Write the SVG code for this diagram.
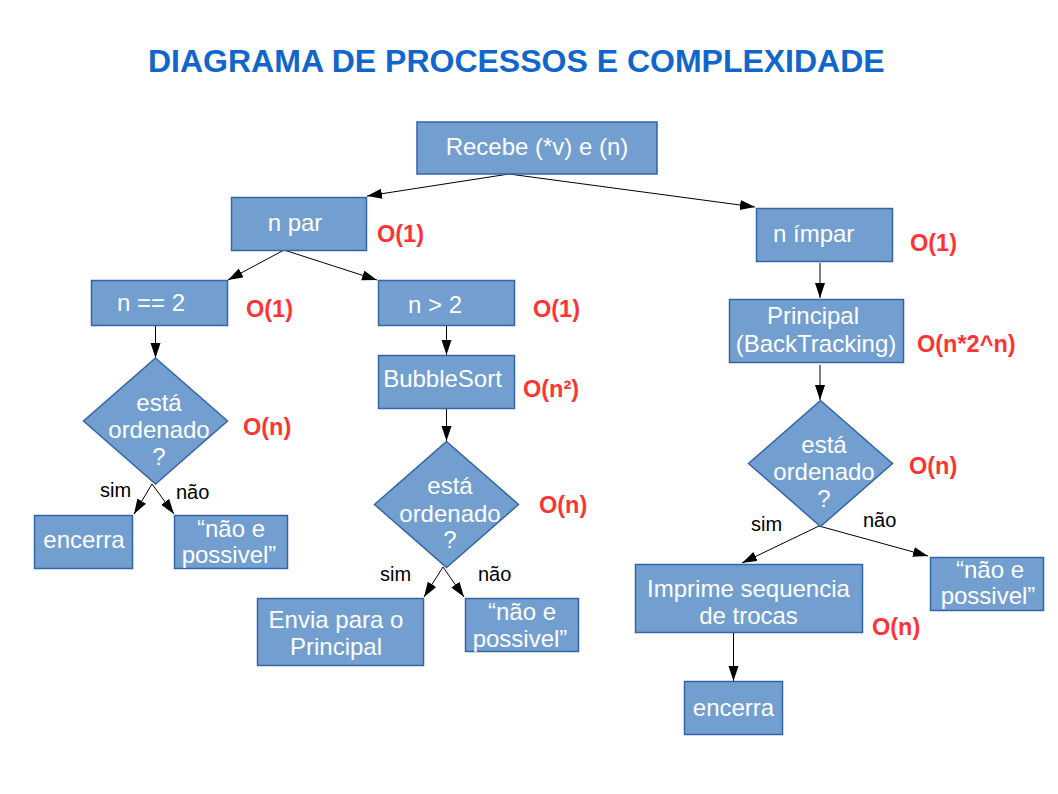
<svg xmlns="http://www.w3.org/2000/svg" width="1058" height="794" viewBox="0 0 1058 794">
<defs>
<style>
.box{fill:#729fcf;stroke:#3465a4;stroke-width:1.5}
.t{font-family:"Liberation Sans",Arial,sans-serif;font-size:24px;fill:#ffffff;text-anchor:middle}
.c{font-family:"Liberation Sans",Arial,sans-serif;font-size:23.5px;font-weight:bold;fill:#ff3333}
.l{font-family:"Liberation Sans",Arial,sans-serif;font-size:20px;fill:#000000}
.e{stroke:#000;stroke-width:1;fill:none;marker-end:url(#ah)}
</style>
<marker id="ah" markerUnits="userSpaceOnUse" markerWidth="16" markerHeight="11" refX="15" refY="5" orient="auto">
<path d="M0,0 L15,5 L0,10 z" fill="#000"/>
</marker>
</defs>
<rect width="1058" height="794" fill="#ffffff"/>
<text x="148" y="72" font-family="Liberation Sans,Arial,sans-serif" font-size="32" font-weight="bold" fill="#1166cc">DIAGRAMA DE PROCESSOS E COMPLEXIDADE</text>

<g id="connectors">
<line class="e" x1="509" y1="174" x2="367" y2="196"/>
<line class="e" x1="509" y1="174" x2="755" y2="207"/>
<line class="e" x1="284" y1="250" x2="228" y2="280"/>
<line class="e" x1="284" y1="250" x2="377" y2="280"/>
<line class="e" x1="155.5" y1="325" x2="155.5" y2="358"/>
<line class="e" x1="446.5" y1="325" x2="446.5" y2="355"/>
<line class="e" x1="152" y1="484" x2="134" y2="514"/>
<line class="e" x1="152" y1="484" x2="174" y2="514"/>
<line class="e" x1="446.5" y1="408" x2="446.5" y2="441"/>
<line class="e" x1="443" y1="567" x2="424" y2="597"/>
<line class="e" x1="443" y1="567" x2="464" y2="597"/>
<line class="e" x1="820" y1="263" x2="820" y2="298"/>
<line class="e" x1="820" y1="365" x2="820" y2="400"/>
<line class="e" x1="819" y1="526" x2="742" y2="563"/>
<line class="e" x1="819" y1="526" x2="928" y2="556"/>
<line class="e" x1="733.5" y1="632" x2="733.5" y2="681"/>
</g>

<g id="recebe">
<rect class="box" x="417" y="122" width="240" height="52"/>
<text class="t" x="537" y="155">Recebe (*v) e (n)</text>
</g>

<g id="npar">
<rect class="box" x="231.5" y="197.5" width="135" height="53"/>
<text class="t" x="295" y="231">n par</text>
<text class="c" x="377" y="242">O(1)</text>
</g>

<g id="nimpar">
<rect class="box" x="756.5" y="208.5" width="136" height="53"/>
<text class="t" x="773" y="242" style="text-anchor:start">n ímpar</text>
<text class="c" x="910" y="251">O(1)</text>
</g>

<g id="neq2">
<rect class="box" x="91.5" y="280.5" width="136" height="45"/>
<text class="t" x="151" y="311">n == 2</text>
<text class="c" x="246" y="317">O(1)</text>
</g>

<g id="ngt2">
<rect class="box" x="378.5" y="280.5" width="136" height="45"/>
<text class="t" x="435" y="313">n &gt; 2</text>
<text class="c" x="533" y="317">O(1)</text>
</g>

<g id="bubblesort">
<rect class="box" x="378.5" y="355.5" width="136" height="53"/>
<text class="t" x="442.5" y="387">BubbleSort</text>
<text class="c" x="523" y="397">O(n²)</text>
</g>

<g id="principal">
<rect class="box" x="729.5" y="299.5" width="174" height="63"/>
<text class="t" x="813" y="324">Principal</text>
<text class="t" x="816" y="352">(BackTracking)</text>
<text class="c" x="917" y="352">O(n*2^n)</text>
</g>

<g id="decisao1">
<polygon class="box" points="155.5,358 227.5,421 155.5,484 83.5,421"/>
<text class="t" x="159" y="411">está</text>
<text class="t" x="159" y="438">ordenado</text>
<text class="t" x="159" y="465">?</text>
<text class="c" x="243" y="435">O(n)</text>
<text class="l" x="100" y="497">sim</text>
<text class="l" x="176" y="499">não</text>
</g>

<g id="decisao2">
<polygon class="box" points="446.5,441.5 518.5,504.5 446.5,567.5 374.5,504.5"/>
<text class="t" x="450" y="494">está</text>
<text class="t" x="450" y="522">ordenado</text>
<text class="t" x="450" y="548">?</text>
<text class="c" x="539" y="513">O(n)</text>
<text class="l" x="380" y="581">sim</text>
<text class="l" x="478" y="581">não</text>
</g>

<g id="decisao3">
<polygon class="box" points="820.5,400.5 892.5,463.5 820.5,526.5 748.5,463.5"/>
<text class="t" x="824" y="453">está</text>
<text class="t" x="824" y="480">ordenado</text>
<text class="t" x="824" y="507">?</text>
<text class="c" x="909" y="474">O(n)</text>
<text class="l" x="751" y="531">sim</text>
<text class="l" x="863" y="527">não</text>
</g>

<g id="encerra1">
<rect class="box" x="34.5" y="515.5" width="98" height="53"/>
<text class="t" x="84" y="548">encerra</text>
</g>

<g id="naopossivel1">
<rect class="box" x="174.5" y="515.5" width="113" height="53"/>
<text class="t" x="231" y="537">“não e</text>
<text class="t" x="229" y="563">possivel”</text>
</g>

<g id="envia">
<rect class="box" x="257.5" y="598.5" width="166" height="67"/>
<text class="t" x="336" y="628">Envia para o</text>
<text class="t" x="336" y="655">Principal</text>
</g>

<g id="naopossivel2">
<rect class="box" x="465.5" y="598.5" width="113" height="53"/>
<text class="t" x="522" y="620">“não e</text>
<text class="t" x="520" y="647">possivel”</text>
</g>

<g id="imprime">
<rect class="box" x="635.5" y="564.5" width="227" height="68"/>
<text class="t" x="748.5" y="597">Imprime sequencia</text>
<text class="t" x="748.5" y="624">de trocas</text>
<text class="c" x="872" y="635">O(n)</text>
</g>

<g id="naopossivel3">
<rect class="box" x="930.5" y="557.5" width="113" height="53"/>
<text class="t" x="990" y="578">“não e</text>
<text class="t" x="988" y="604">possivel”</text>
</g>

<g id="encerra2">
<rect class="box" x="684.5" y="681.5" width="98" height="53"/>
<text class="t" x="733.5" y="716">encerra</text>
</g>
</svg>
